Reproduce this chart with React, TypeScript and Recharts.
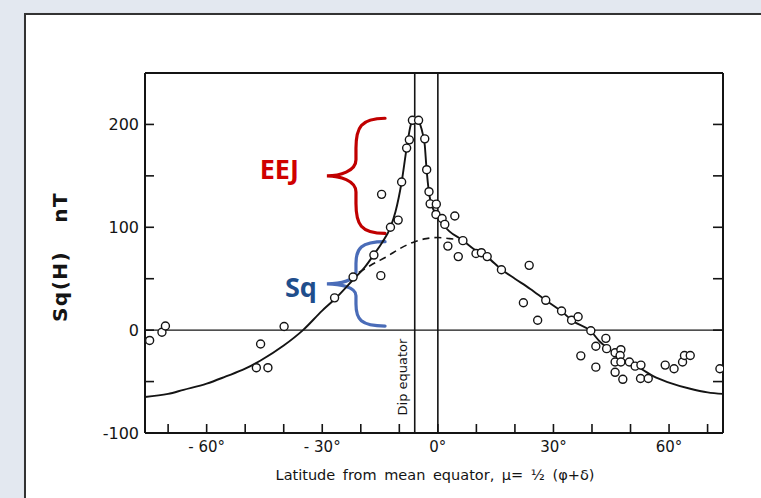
import React from 'react';
import { ComposedChart, Line, Scatter, XAxis, YAxis, ReferenceLine, ReferenceArea } from 'recharts';

// latitude (deg) vs Sq(H) (nT)
const solidCurve: [number, number][] = [
  [-76, -65], [-70, -62], [-66, -58], [-60, -52], [-55, -45], [-50, -37.5], [-46, -29.5],
  [-40, -15], [-35, 0], [-30, 19], [-26.8, 30], [-22, 49], [-19, 61], [-16.5, 74],
  [-14.5, 85], [-12.3, 100], [-11, 115], [-9.4, 144], [-8.1, 177], [-7, 200], [-6, 206],
  [-5, 203], [-4, 192], [-3.4, 180], [-3, 160], [-2.5, 140], [-2, 127], [-1, 116], [0, 110],
  [1.5, 102], [3, 96], [6.2, 88], [10, 77], [12.8, 71], [16.5, 59], [20, 50], [24, 40],
  [28, 29], [32, 18.6], [35, 9], [39.7, -1], [42, -11], [45, -20], [47.5, -27], [52.7, -37.5],
  [56, -45], [60, -51], [65.5, -57], [70, -60.5], [74, -62],
];

// Sq baseline without the electrojet
const dashedCurve: [number, number][] = [
  [-20.5, 56], [-17, 64], [-13, 72], [-10, 79], [-6, 86], [-3, 89], [0, 90], [3, 89], [6.5, 87.5],
];

const observations: [number, number][] = [
  [-74.8, -10], [-71.6, -2], [-70.7, 4], [-46, -13.5], [-47.1, -36.5], [-44.1, -36.5],
  [-39.9, 3.5], [-26.8, 31.4], [-22, 51.6], [-16.6, 73], [-14.8, 53], [-14.6, 132],
  [-12.3, 100], [-10.3, 107], [-9.4, 144], [-8.1, 177], [-7.4, 185], [-6.6, 204], [-5.0, 204],
  [-3.4, 186], [-2.9, 156], [-2.3, 134.6], [-2.0, 122.8], [-0.4, 122.5], [-0.5, 112.5],
  [1.1, 108.5], [1.8, 102.8], [4.4, 111], [2.6, 81.7], [6.5, 87], [5.3, 71.5], [9.9, 74.5],
  [11.3, 75.3], [12.8, 71.5], [16.5, 58.7], [23.7, 63], [22.2, 26.6], [28, 29], [25.9, 9.6],
  [32.1, 18.6], [34.7, 9.6], [36.4, 13], [39.7, -0.6], [37.1, -25], [41, -15.7], [41, -36],
  [43.6, -8], [43.8, -18], [46, -22], [47.5, -19], [47.3, -24.7], [46, -31], [47.5, -31],
  [46, -41], [48, -47.8], [49.7, -31], [51.2, -35], [52.7, -34], [52.6, -47], [54.6, -47],
  [59, -34], [61.3, -37.5], [63.5, -31], [64, -24.7], [65.5, -24.7], [73.2, -37.5],
];

const xTicks = [-70, -60, -50, -40, -30, -20, -10, 0, 10, 20, 30, 40, 50, 60, 70];
const yTicks = [-100, -50, 0, 50, 100, 150, 200];
const xDomain: [number, number] = [-76, 74];
const yDomain: [number, number] = [-100, 250];
const DIP_EQUATOR = -6;

// annotated spans (nT) and where the braces sit in latitude
const eejSpan = { from: 94, to: 206 };
const sqSpan = { from: 4, to: 86 };
const braceLat: [number, number] = [-28.8, -13.7];

const toPts = (arr: [number, number][]) => arr.map(([x, y]) => ({ x, y }));

const INK = '#141414';
const LETTER = '"DejaVu Sans", sans-serif';

const fmtLat = (v: number) => (v < 0 ? `- ${Math.abs(v)}°` : `${v}°`);

const BottomTick = ({ x, y, payload }: any) => (
  <g>
    <line x1={x} y1={y} x2={x} y2={y - 9} stroke={INK} strokeWidth={1.6} />
    {payload.value % 30 === 0 && (
      <text x={x} y={y + 19} textAnchor="middle" fontSize={15} fontFamily={LETTER} fill={INK}>
        {fmtLat(payload.value)}
      </text>
    )}
  </g>
);

const TopTick = ({ x, y }: any) => (
  <line x1={x} y1={y} x2={x} y2={y + 9} stroke={INK} strokeWidth={1.6} />
);

const LeftTick = ({ x, y, payload }: any) => (
  <g>
    <line x1={x} y1={y} x2={x + 9} y2={y} stroke={INK} strokeWidth={1.6} />
    {payload.value % 100 === 0 && (
      <text x={x - 6} y={y} dy="0.36em" textAnchor="end" fontSize={16} fontFamily={LETTER} fill={INK}>
        {payload.value}
      </text>
    )}
  </g>
);

const RightTick = ({ x, y }: any) => (
  <line x1={x} y1={y} x2={x - 10} y2={y} stroke={INK} strokeWidth={1.6} />
);

const brace = (color: string) => (props: any) => {
  const { x, y, width: w, height: h } = props;
  const sx = x + w * 0.5;
  const d = [
    `M ${x + w} ${y}`,
    `C ${x + w * 0.58} ${y} ${sx} ${y + h * 0.08} ${sx} ${y + h * 0.26}`,
    `L ${sx} ${y + h * 0.36}`,
    `C ${sx} ${y + h * 0.46} ${x + w * 0.22} ${y + h * 0.5} ${x} ${y + h * 0.5}`,
    `C ${x + w * 0.22} ${y + h * 0.5} ${sx} ${y + h * 0.54} ${sx} ${y + h * 0.64}`,
    `L ${sx} ${y + h * 0.74}`,
    `C ${sx} ${y + h * 0.92} ${x + w * 0.58} ${y + h} ${x + w} ${y + h}`,
  ].join(' ');
  return <path d={d} fill="none" stroke={color} strokeWidth={3.2} strokeLinecap="round" />;
};

const braceText = (text: string, color: string, gap: number, lift: number) => (props: any) => {
  const vb = props.viewBox;
  return (
    <text
      x={vb.x - gap}
      y={vb.y + vb.height / 2 + lift}
      textAnchor="end"
      fontSize={27}
      fontWeight={700}
      fontFamily='"Open Sans", sans-serif'
      fill={color}
    >
      {text}
    </text>
  );
};

const dipLabel = (props: any) => {
  const vb = props.viewBox;
  const cx = vb.x - 8;
  const cy = vb.y + vb.height - 56;
  return (
    <text
      x={cx}
      y={cy}
      textAnchor="middle"
      transform={`rotate(-90 ${cx} ${cy})`}
      fontSize={13}
      fontFamily={LETTER}
      fill={INK}
    >
      Dip equator
    </text>
  );
};

const Ring = (props: any) => (
  <circle cx={props.cx} cy={props.cy} r={4} fill="#fff" stroke={INK} strokeWidth={1.4} />
);

export default function App() {
  return (
    <div style={{ position: 'absolute', left: 0, top: 0, width: 761, height: 498, background: '#e3e8f0', overflow: 'hidden' }}>
      <div
        style={{
          position: 'absolute', left: 24, top: 13, right: -4, bottom: -4,
          background: '#fff', borderTop: '2px solid #333', borderLeft: '2px solid #333',
          boxShadow: '1px 1px 2px rgba(0,0,0,0.25)',
        }}
      />
      <div style={{ position: 'absolute', left: 0, top: 0 }}>
        <ComposedChart width={761} height={498} margin={{ top: 53, right: 18, bottom: 35, left: 105 }}>
          <XAxis
            dataKey="x" type="number" domain={xDomain} allowDataOverflow ticks={xTicks} interval={0}
            height={30} tickSize={0} tickMargin={0} tickLine={false}
            axisLine={{ stroke: INK, strokeWidth: 2 }} tick={<BottomTick />}
          />
          <XAxis
            xAxisId="top" orientation="top" type="number" domain={xDomain} allowDataOverflow ticks={xTicks}
            interval={0} height={20} tickSize={0} tickMargin={0} tickLine={false}
            axisLine={{ stroke: INK, strokeWidth: 2 }} tick={<TopTick />}
          />
          <YAxis
            type="number" domain={yDomain} allowDataOverflow ticks={yTicks} interval={0}
            width={40} tickSize={0} tickMargin={0} tickLine={false}
            axisLine={{ stroke: INK, strokeWidth: 2 }} tick={<LeftTick />}
          />
          <YAxis
            yAxisId="r" orientation="right" type="number" domain={yDomain} allowDataOverflow ticks={yTicks}
            interval={0} width={20} tickSize={0} tickMargin={0} tickLine={false}
            axisLine={{ stroke: INK, strokeWidth: 2 }} tick={<RightTick />}
          />

          <ReferenceLine y={0} stroke={INK} strokeWidth={1.3} />
          <ReferenceLine x={0} stroke={INK} strokeWidth={1.6} />
          <ReferenceLine x={DIP_EQUATOR} stroke={INK} strokeWidth={1.6} label={dipLabel} />

          <Line
            data={toPts(dashedCurve)} dataKey="y" type="monotone" stroke={INK} strokeWidth={1.6}
            strokeDasharray="7 5" dot={false} isAnimationActive={false}
          />
          <Line
            data={toPts(solidCurve)} dataKey="y" type="monotone" stroke={INK} strokeWidth={1.9}
            dot={false} isAnimationActive={false}
          />
          <Scatter data={toPts(observations)} dataKey="y" shape={<Ring />} isAnimationActive={false} />

          <ReferenceArea
            x1={braceLat[0]} x2={braceLat[1]} y1={eejSpan.from} y2={eejSpan.to}
            shape={brace('#c00000')} label={braceText('EEJ', '#d00000', 28, 3)}
          />
          <ReferenceArea
            x1={braceLat[0]} x2={braceLat[1]} y1={sqSpan.from} y2={sqSpan.to}
            shape={brace('#4a6cb8')} label={braceText('Sq', '#1f4e8c', 10, 13)}
          />
        </ComposedChart>
      </div>
      <svg width={761} height={498} style={{ position: 'absolute', left: 0, top: 0, pointerEvents: 'none' }}>
        <text
          x={66.5} y={257} textAnchor="middle" transform="rotate(-90 66.5 257)"
          fontSize={20} fontWeight={700} fontFamily={LETTER} letterSpacing={1.5} fill={INK}
        >
          <tspan>Sq(H)</tspan>
          <tspan dx={28}>nT</tspan>
        </text>
        <text x={435} y={480} textAnchor="middle" fontSize={14.5} fontFamily={LETTER} fill={INK} wordSpacing={3}>
          Latitude from mean equator, μ= ½ (φ+δ)
        </text>
      </svg>
    </div>
  );
}
